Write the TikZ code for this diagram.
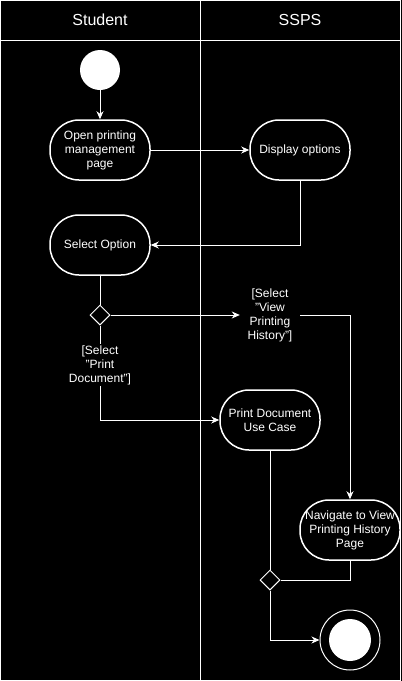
\documentclass[tikz,border=0pt]{standalone}
\usepackage{fontspec}
\setmainfont{Liberation Sans}
\usetikzlibrary{positioning,shapes.geometric,arrows.meta}

\begin{document}
\begin{tikzpicture}
  [x=1pt, y=-1pt, every node/.style={text=white, font=\fontsize{12}{14}\selectfont, align=center},
   lanehead/.style={font=\fontsize{16}{19}\selectfont},
   act/.style={rectangle, draw=white, fill=black, line width=1.5pt, rounded corners=29pt, minimum width=100pt, minimum height=60pt, inner sep=2pt},
   choice/.style={diamond, draw=white, fill=black, line width=1pt, minimum width=20pt, minimum height=20pt, inner sep=0pt},
   guard/.style={fill=black, inner sep=1pt},
   flow/.style={draw=white, line width=1pt},
   arr/.style={flow, -{Stealth[length=8pt, width=7pt, inset=2.5pt]}}]
  % background and the two lanes
  \fill[black] (0,0) rectangle (402,681);
  \useasboundingbox (0,0) rectangle (402,681);
  \draw[white, line width=1pt] (0.5,0.5) rectangle (400,680);
  \draw[white, line width=1pt] (0.5,40) -- (400,40) (200,0.5) -- (200,680);
  \node (lstudent) at (100,20) [lanehead] {Student};
  \node (lssps)    at (300,20) [lanehead] {SSPS};
  % Student lane
  \node (start) at (100,70) [circle, fill=white, minimum size=40pt, inner sep=0pt] {};
  \node (open)  at (100,150) [act] {Open printing\\management\\page};
  \node (sel)   at (100,245) [act] {Select Option};
  \node (dec1)  at (100,315) [choice] {};
  \node (pdl)   at (100,365) [guard] {[Select\\"Print\\Document"]};
  % SSPS lane
  \node (disp)  at (300,150) [act] {Display options};
  \node (vph)   at (270,315) [guard, minimum width=60pt] {[Select\\"View\\Printing\\History"]};
  \node (pduc)  at (270,420) [act] {Print Document\\Use Case};
  \node (nav)   at (350,530) [act, inner sep=0pt] {Navigate to View\\Printing History\\Page};
  \node (dec2)  at (270,580) [choice] {};
  \node (end)   at (350,640) [circle, draw=white, line width=1pt, minimum size=60pt, inner sep=0pt] {};
  \fill[white] (end) circle (21pt);
  % flows
  \draw[arr] (start) -- (open);
  \draw[arr] (open) -- (disp);
  \draw[arr] (disp.south) |- (sel.east);
  \draw[flow] (sel) -- (dec1);
  \draw[arr] (dec1) -- (vph);
  \draw[arr] (vph.east) -| (nav.north);
  \draw[flow] (dec1) -- (pdl);
  \draw[arr] (pdl.south) |- (pduc.west);
  \draw[flow] (pduc) -- (dec2);
  \draw[flow] (nav.south) |- (dec2.east);
  \draw[arr] (dec2.south) |- (end.west);
\end{tikzpicture}
\end{document}
